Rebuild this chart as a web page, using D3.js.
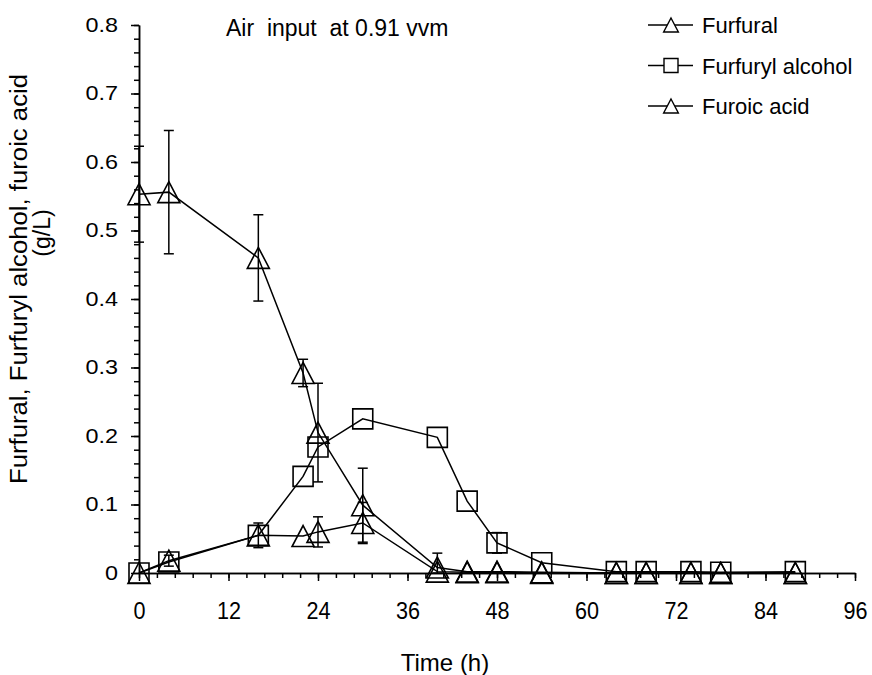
<!DOCTYPE html>
<html>
<head>
<meta charset="utf-8">
<script src="https://cdn.jsdelivr.net/npm/d3@7"></script>
<style>
  body { margin: 0; background: #fff; }
  svg text { font-family: "Liberation Sans", Arial, sans-serif; fill: #000; }
</style>
</head>
<body>
<div id="chart"></div>
<script>
// sampling times (h)
var times = [0, 4, 16, 22, 24, 30, 40, 44, 48, 54, 64, 68, 74, 78, 88];

// concentrations (g/L)
var furfural = [0.553, 0.556, 0.46, 0.292, 0.205, 0.099, 0.008, 0.002, 0.002, 0.001, 0, 0, 0, 0, 0];
var furfuralErr = [0.07, 0.09, 0.063, 0.02, 0.072, 0.054, 0.021, 0, 0, 0, 0, 0, 0, 0, 0];

var furfurylAlcohol = [0, 0.016, 0.055, 0.141, 0.184, 0.225, 0.198, 0.105, 0.044, 0.015, 0.002, 0.002, 0.002, 0.001, 0.002];
var furfurylAlcoholErr = [0, 0, 0, 0, 0, 0, 0, 0, 0.015, 0, 0, 0, 0, 0, 0];

var furoicAcid = [0, 0.018, 0.055, 0.054, 0.06, 0.073, 0.002, 0.001, 0.001, 0, 0, 0, 0, 0, 0];
var furoicAcidErr = [0, 0.008, 0.018, 0, 0.022, 0.03, 0, 0, 0, 0, 0, 0, 0, 0, 0];

var xTicks = [0, 12, 24, 36, 48, 60, 72, 84, 96];
var yTicks = [0, 0.1, 0.2, 0.3, 0.4, 0.5, 0.6, 0.7, 0.8];

var seriesNames = ["Furfural", "Furfuryl alcohol", "Furoic acid"];
var seriesShapes = ["triangle", "square", "triangle"];

var width = 872, height = 675;

var svg = d3.select("#chart").append("svg")
    .attr("width", width)
    .attr("height", height);

var x = d3.scaleLinear().domain([0, 96]).range([139, 855]);
var y = d3.scaleLinear().domain([0, 0.8]).range([573, 25]);

// minor ticks
svg.append("g")
    .attr("transform", "translate(0," + y(0) + ")")
    .call(d3.axisBottom(x).tickValues(d3.range(0, 96.01, 2.4)).tickSize(5).tickSizeOuter(0).tickFormat(""));
svg.append("g")
    .attr("transform", "translate(" + x(0) + ",0)")
    .call(d3.axisLeft(y).tickValues(d3.range(0, 0.801, 0.02)).tickSize(5).tickSizeOuter(0).tickFormat(""));

// major ticks + labels
var xAxis = svg.append("g")
    .attr("transform", "translate(0," + y(0) + ")")
    .call(d3.axisBottom(x).tickValues(xTicks).tickSize(8).tickSizeOuter(0).tickPadding(21));
xAxis.selectAll("text")
    .attr("font-size", 24)
    .attr("transform", "scale(0.9,1)");

var yAxis = svg.append("g")
    .attr("transform", "translate(" + x(0) + ",0)")
    .call(d3.axisLeft(y).tickValues(yTicks).tickSize(8).tickSizeOuter(0)
        .tickFormat(function(d) { return d === 0 ? "0" : d.toFixed(1); }));
yAxis.selectAll("text")
    .attr("font-size", 20)
    .attr("x", -21 / 1.17)
    .attr("transform", "scale(1.17,1)");

svg.selectAll(".domain, .tick line").attr("stroke", "#000").attr("stroke-width", 1.5);

// axis titles
svg.append("text")
    .attr("transform", "translate(27,279) rotate(-90)")
    .attr("text-anchor", "middle")
    .attr("font-size", 23)
    .attr("textLength", 410)
    .attr("lengthAdjust", "spacingAndGlyphs")
    .text("Furfural, Furfuryl alcohol, furoic acid");
svg.append("text")
    .attr("transform", "translate(50,233) rotate(-90)")
    .attr("text-anchor", "middle")
    .attr("font-size", 23)
    .text("(g/L)");
svg.append("text")
    .attr("x", 445)
    .attr("y", 671)
    .attr("text-anchor", "middle")
    .attr("font-size", 24)
    .text("Time (h)");

svg.append("text")
    .attr("x", 226)
    .attr("y", 36)
    .attr("font-size", 23)
    .attr("xml:space", "preserve")
    .text("Air  input  at 0.91 vvm");

function markerPath(shape, r) {
    if (shape === "square") {
        return "M" + (-r) + "," + (-r) + "H" + r + "V" + r + "H" + (-r) + "Z";
    }
    return "M0," + (-r) + "L" + (r * 1.05) + "," + r + "H" + (-r * 1.05) + "Z";
}

var allSeries = [
    { values: furfural, err: furfuralErr },
    { values: furfurylAlcohol, err: furfurylAlcoholErr },
    { values: furoicAcid, err: furoicAcidErr }
];

var line = d3.line()
    .x(function(d) { return x(d.t); })
    .y(function(d) { return y(d.v); });

allSeries.forEach(function(s, si) {
    var pts = times.map(function(t, i) { return { t: t, v: s.values[i], e: s.err[i] }; });
    var g = svg.append("g");

    g.append("path")
        .datum(pts)
        .attr("d", line)
        .attr("fill", "none")
        .attr("stroke", "#000")
        .attr("stroke-width", 1.5);

    var eb = g.selectAll(".err")
        .data(pts.filter(function(d) { return d.e > 0; }))
        .enter().append("g");
    eb.append("line")
        .attr("x1", function(d) { return x(d.t); })
        .attr("x2", function(d) { return x(d.t); })
        .attr("y1", function(d) { return y(d.v + d.e); })
        .attr("y2", function(d) { return y(Math.max(0, d.v - d.e)); })
        .attr("stroke", "#000").attr("stroke-width", 1.5);
    [1, -1].forEach(function(sign) {
        eb.append("line")
            .attr("x1", function(d) { return x(d.t) - 5; })
            .attr("x2", function(d) { return x(d.t) + 5; })
            .attr("y1", function(d) { return y(Math.max(0, d.v + sign * d.e)); })
            .attr("y2", function(d) { return y(Math.max(0, d.v + sign * d.e)); })
            .attr("stroke", "#000").attr("stroke-width", 1.5);
    });

    g.selectAll(".mk")
        .data(pts)
        .enter().append("path")
        .attr("transform", function(d) { return "translate(" + x(d.t) + "," + y(d.v) + ")"; })
        .attr("d", markerPath(seriesShapes[si], seriesShapes[si] === "square" ? 10 : 10.5))
        .attr("fill", "none")
        .attr("stroke", "#000")
        .attr("stroke-width", 1.6);
});

// legend
var legend = svg.append("g");
seriesNames.forEach(function(name, i) {
    var ly = 25 + i * 40.5;
    legend.append("line")
        .attr("x1", 648).attr("x2", 693)
        .attr("y1", ly).attr("y2", ly)
        .attr("stroke", "#000").attr("stroke-width", 1.5);
    legend.append("path")
        .attr("transform", "translate(671," + ly + ")")
        .attr("d", markerPath(seriesShapes[i], 7))
        .attr("fill", "#fff")
        .attr("stroke", "#000")
        .attr("stroke-width", 1.4);
    legend.append("text")
        .attr("x", 702)
        .attr("y", ly + 8)
        .attr("font-size", 22)
        .text(name);
});
</script>
</body>
</html>
